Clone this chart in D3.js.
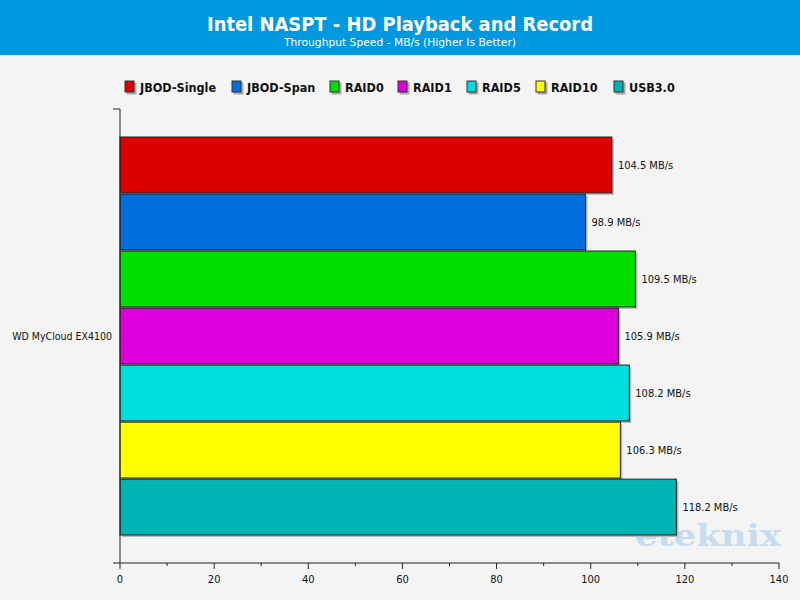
<!DOCTYPE html>
<html>
<head>
<meta charset="utf-8">
<script src="https://cdn.jsdelivr.net/npm/d3@7"></script>
<style>
  html, body { margin: 0; padding: 0; background: #f4f4f4; }
  svg { display: block; }
</style>
</head>
<body>
<svg id="chart" width="800" height="600"></svg>
<script>
// ---- data ----
const categories = ["WD MyCloud EX4100"];
const seriesNames = ["JBOD-Single", "JBOD-Span", "RAID0", "RAID1", "RAID5", "RAID10", "USB3.0"];
const seriesValues = [104.5, 98.9, 109.5, 105.9, 108.2, 106.3, 118.2];
const seriesColors = ["#dd0000", "#006fdd", "#00dd00", "#dd00dd", "#00dddd", "#ffff00", "#00b4b4"];
const xTicks = [0, 20, 40, 60, 80, 100, 120, 140];
const titleText = "Intel NASPT - HD Playback and Record";
const subtitleText = "Throughput Speed - MB/s (Higher Is Better)";
const unitSuffix = " MB/s";

// ---- layout ----
const W = 800, H = 600;
const plot = { left: 120, right: 779, top: 109, bottom: 563 };
const svg = d3.select("#chart");
const font = "'DejaVu Sans Condensed', 'DejaVu Sans', sans-serif";

svg.append("rect").attr("width", W).attr("height", H).attr("fill", "#f4f4f4");

// header
svg.append("rect").attr("x", 0).attr("y", 0).attr("width", W).attr("height", 55).attr("fill", "#0099e0");
svg.append("text").attr("x", 400).attr("y", 31).attr("text-anchor", "middle")
  .attr("font-family", font).attr("font-weight", "bold")
  .attr("font-size", 20).attr("fill", "#ffffff")
  .attr("textLength", 386).attr("lengthAdjust", "spacingAndGlyphs")
  .text(titleText);
svg.append("text").attr("x", 400).attr("y", 46).attr("text-anchor", "middle")
  .attr("font-family", font)
  .attr("font-size", 11).attr("fill", "#ffffff")
  .attr("textLength", 232).attr("lengthAdjust", "spacingAndGlyphs")
  .text(subtitleText);

// scales
const x = d3.scaleLinear().domain([0, 140]).range([plot.left, plot.right]);
const y0 = d3.scaleBand().domain(categories).range([plot.top, plot.bottom]);
const y1 = d3.scaleBand().domain(seriesNames)
  .range([28, y0.bandwidth() - 28]).paddingInner(0.02);

// legend
const legendX = [125, 232, 330, 398, 467, 536, 614];
const legend = svg.append("g");
seriesNames.forEach((name, i) => {
  const g = legend.append("g").attr("transform", `translate(${legendX[i]},81)`);
  g.append("rect").attr("x", 1.5).attr("y", 1.5).attr("width", 10).attr("height", 12).attr("fill", "#aaaaaa");
  g.append("rect").attr("x", 0).attr("y", 0).attr("width", 9).attr("height", 11)
    .attr("fill", seriesColors[i]).attr("stroke", "#333").attr("stroke-width", 1);
  g.append("text").attr("x", 15).attr("y", 10.5).attr("font-family", font)
    .attr("font-weight", "bold").attr("font-size", 12.5).attr("fill", "#111").text(name);
});

// watermark
svg.append("text").attr("x", 708).attr("y", 546).attr("text-anchor", "middle")
  .attr("font-family", "'DejaVu Serif', serif").attr("font-weight", "bold")
  .attr("font-size", 30).attr("fill", "#bcd8ee").attr("opacity", 0.8)
  .attr("textLength", 146).attr("lengthAdjust", "spacingAndGlyphs")
  .text("eteknix");

// bars
const groups = svg.append("g").selectAll("g").data(categories).join("g")
  .attr("transform", d => `translate(0,${y0(d)})`);
const barData = seriesNames.map((n, i) => ({ name: n, value: seriesValues[i], color: seriesColors[i] }));
groups.selectAll("rect.shadow").data(barData).join("rect").attr("class", "shadow")
  .attr("x", x(0) + 2).attr("y", d => y1(d.name) + 2)
  .attr("width", d => x(d.value) - x(0)).attr("height", y1.bandwidth())
  .attr("fill", "#b8b8b8");
groups.selectAll("rect.bar").data(barData).join("rect").attr("class", "bar")
  .attr("x", x(0)).attr("y", d => y1(d.name))
  .attr("width", d => x(d.value) - x(0)).attr("height", y1.bandwidth())
  .attr("fill", d => d.color).attr("stroke", "#222").attr("stroke-width", 1);
groups.selectAll("text.val").data(barData).join("text").attr("class", "val")
  .attr("x", d => x(d.value) + 6).attr("y", d => y1(d.name) + y1.bandwidth() / 2 + 4)
  .attr("font-family", font).attr("font-size", 11).attr("fill", "#111")
  .text(d => d.value.toFixed(1) + unitSuffix);

// x axis
const xAxis = svg.append("g").attr("transform", `translate(0,${plot.bottom})`);
xAxis.append("line").attr("x1", 113).attr("x2", plot.right).attr("y1", 0).attr("y2", 0).attr("stroke", "#222");
const minor = d3.range(10, 140, 20);
xAxis.selectAll("line.minor").data(minor).join("line").attr("class", "minor")
  .attr("x1", d => x(d)).attr("x2", d => x(d)).attr("y1", 0).attr("y2", 3).attr("stroke", "#222");
xAxis.selectAll("line.major").data(xTicks).join("line").attr("class", "major")
  .attr("x1", d => x(d)).attr("x2", d => x(d)).attr("y1", 0).attr("y2", 6).attr("stroke", "#222");
xAxis.selectAll("text").data(xTicks).join("text")
  .attr("x", d => x(d)).attr("y", 20).attr("text-anchor", "middle")
  .attr("font-family", font).attr("font-size", 11).attr("fill", "#111").text(d => d);

// y axis
const yAxis = svg.append("g");
yAxis.append("line").attr("x1", plot.left).attr("x2", plot.left).attr("y1", plot.top).attr("y2", plot.bottom).attr("stroke", "#222");
yAxis.append("line").attr("x1", 113).attr("x2", plot.left).attr("y1", plot.top).attr("y2", plot.top).attr("stroke", "#222");
yAxis.selectAll("text").data(categories).join("text")
  .attr("x", 112).attr("y", d => y0(d) + y0.bandwidth() / 2 + 4).attr("text-anchor", "end")
  .attr("font-family", font).attr("font-size", 10.5).attr("fill", "#111").text(d => d);
</script>
</body>
</html>
